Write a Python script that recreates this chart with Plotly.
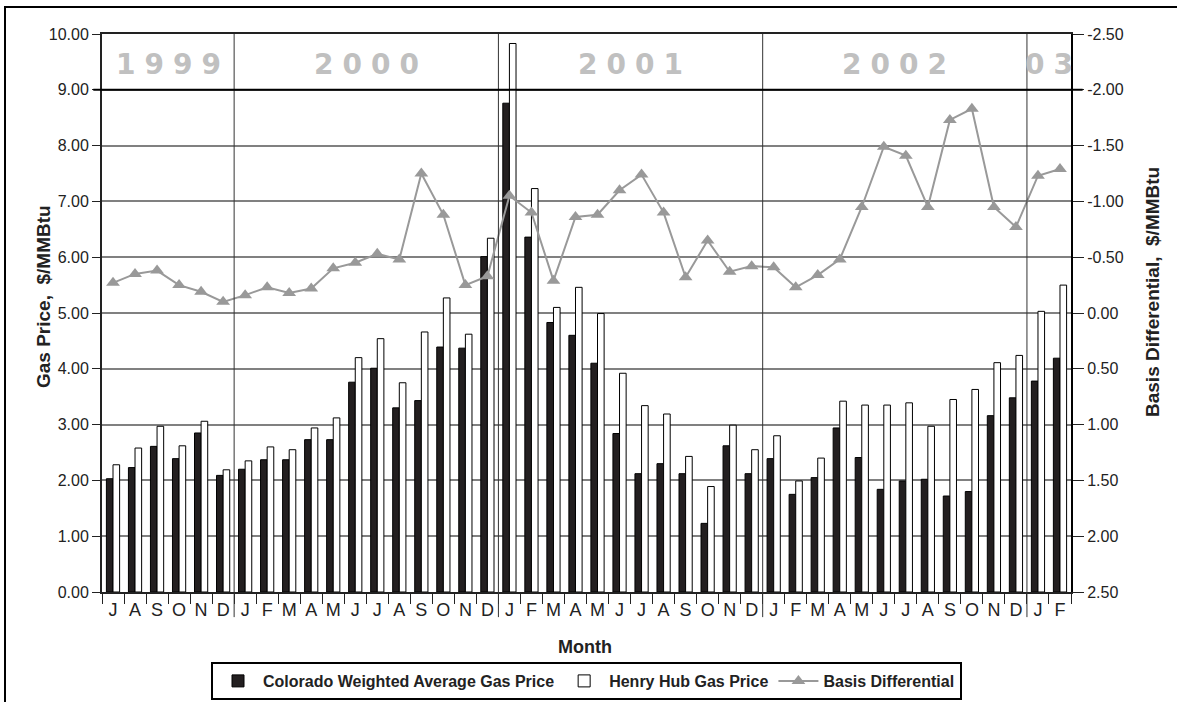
import plotly.graph_objects as go

months = ["J","A","S","O","N","D",
          "J","F","M","A","M","J","J","A","S","O","N","D",
          "J","F","M","A","M","J","J","A","S","O","N","D",
          "J","F","M","A","M","J","J","A","S","O","N","D",
          "J","F"]
colorado = [2.03, 2.23, 2.61, 2.39, 2.85, 2.09,
            2.20, 2.37, 2.37, 2.73, 2.73, 3.76, 4.01, 3.30, 3.43, 4.39, 4.37, 6.01,
            8.76, 6.36, 4.83, 4.60, 4.10, 2.84, 2.12, 2.30, 2.12, 1.23, 2.62, 2.12,
            2.39, 1.75, 2.05, 2.94, 2.41, 1.84, 1.99, 2.02, 1.72, 1.80, 3.16, 3.48,
            3.78, 4.19]
henry = [2.28, 2.58, 2.97, 2.62, 3.06, 2.19,
         2.35, 2.60, 2.55, 2.94, 3.12, 4.20, 4.54, 3.75, 4.66, 5.27, 4.62, 6.34,
         9.83, 7.23, 5.10, 5.46, 4.99, 3.92, 3.34, 3.19, 2.43, 1.89, 2.99, 2.55,
         2.80, 1.99, 2.40, 3.42, 3.35, 3.35, 3.39, 2.97, 3.45, 3.63, 4.11, 4.24,
         5.03, 5.50]
basis = [-0.27, -0.35, -0.38, -0.25, -0.19, -0.10,
         -0.16, -0.23, -0.18, -0.22, -0.40, -0.45, -0.53, -0.48, -1.25, -0.88, -0.25, -0.33,
         -1.05, -0.90, -0.29, -0.86, -0.88, -1.10, -1.24, -0.90, -0.32, -0.65, -0.37, -0.42,
         -0.41, -0.23, -0.34, -0.48, -0.95, -1.49, -1.41, -0.95, -1.73, -1.83, -0.95, -0.77,
         -1.23, -1.29]
year_labels = ["1999", "2000", "2001", "2002", "03"]
year_months = [6, 12, 12, 12, 2]
right_ticks = [-2.5, -2.0, -1.5, -1.0, -0.5, 0.0, 0.5, 1.0, 1.5, 2.0, 2.5]

x = list(range(len(months)))
FONT = "Liberation Sans, Arial, sans-serif"

fig = go.Figure()
fig.add_trace(go.Bar(x=x, y=colorado, name="Colorado Weighted Average Gas Price",
                     marker=dict(color="#231f20", line=dict(color="#000000", width=1))))
fig.add_trace(go.Bar(x=x, y=henry, name="Henry Hub Gas Price",
                     marker=dict(color="#ffffff", line=dict(color="#000000", width=1))))
fig.add_trace(go.Scatter(x=x, y=basis, name="Basis Differential", yaxis="y2",
                         mode="lines+markers",
                         line=dict(color="#999999", width=2),
                         marker=dict(symbol="triangle-up", size=12, color="#999999")))

shapes = []
annotations = []
start = 0
for lab, n in zip(year_labels, year_months):
    annotations.append(dict(x=start + (n - 1) / 2, y=9.45, xref="x", yref="y",
                            text='<span style="letter-spacing:9px">' + lab[:-1] + '</span>' + lab[-1],
                            showarrow=False,
                            font=dict(family="DejaVu Sans, sans-serif", size=28,
                                      color="#c0c0c0", weight="bold"),
                            xanchor="center", yanchor="middle"))
    start += n
    if start < len(months):
        shapes.append(dict(type="line", xref="x", yref="paper", x0=start - 0.5, x1=start - 0.5,
                           y0=-0.045, y1=1, line=dict(color="#333333", width=1)))

# black separator line at 9.00
shapes.append(dict(type="line", xref="paper", yref="y", x0=-0.009, x1=1.012, y0=9, y1=9,
                   line=dict(color="#000000", width=2)))
# outer frame
shapes.append(dict(type="rect", xref="paper", yref="paper", x0=-0.1001, x1=1.12,
                   y0=-0.21, y1=1.0484, line=dict(color="#000000", width=2)))

annotations.append(dict(text="Gas Price,  $/MMBtu", xref="paper", yref="paper",
                        x=(43 - 102) / 969, y=(592 - 297) / 558, textangle=-90,
                        showarrow=False, xanchor="center", yanchor="middle",
                        font=dict(family=FONT, size=19, color="#222222", weight="bold")))
annotations.append(dict(text="Basis Differential,  $/MMBtu", xref="paper", yref="paper",
                        x=(1152 - 102) / 969, y=(592 - 292) / 558, textangle=-90,
                        showarrow=False, xanchor="center", yanchor="middle",
                        font=dict(family=FONT, size=19, color="#222222", weight="bold")))
annotations.append(dict(text="Month", xref="paper", yref="paper",
                        x=(585 - 102) / 969, y=(592 - 647) / 558,
                        showarrow=False, xanchor="center", yanchor="middle",
                        font=dict(family=FONT, size=18, color="#222222", weight="bold")))

fig.update_layout(
    width=1177, height=702,
    margin=dict(l=102, r=106, t=34, b=110, pad=0, autoexpand=False),
    paper_bgcolor="white", plot_bgcolor="white",
    barmode="group", bargap=0.4, bargroupgap=0,
    font=dict(family=FONT, color="#222222"),
    showlegend=True,
    legend=dict(orientation="h", x=0.5, xanchor="center", y=(592 - 662) / 558, yanchor="top",
                bordercolor="#000000", borderwidth=2, bgcolor="white",
                font=dict(family=FONT, size=16, color="#222222", weight="bold"),
                itemwidth=40, traceorder="normal"),
    xaxis=dict(range=[-0.5, len(months) - 0.5], tickvals=x, ticktext=months, ticks="",
               tickfont=dict(size=18, color="#222222"),
               showline=True, linecolor="#222222", linewidth=2, mirror=True,
               showgrid=False, zeroline=False,
               minor=dict(ticks="outside", tick0=-0.5, dtick=1, ticklen=10,
                          tickcolor="#222222", tickwidth=1, showgrid=False)),
    yaxis=dict(range=[0, 10], dtick=1, tickformat=".2f", ticks="outside", ticklen=8,
               tickcolor="#222222", tickfont=dict(size=16, color="#222222"),
               showline=True, linecolor="#222222", linewidth=2,
               showgrid=True, gridcolor="#808080", gridwidth=1.5, zeroline=False),
    yaxis2=dict(range=[2.5, -2.5], tickvals=right_ticks,
                ticktext=["%.2f" % v for v in right_ticks],
                overlaying="y", side="right",
                ticks="outside", ticklen=11, tickcolor="#222222",
                tickfont=dict(size=16, color="#222222"),
                showline=True, linecolor="#000000", linewidth=2,
                showgrid=False, zeroline=False),
    shapes=shapes, annotations=annotations,
)
fig.write_html(
    "out.html",
    config={"displayModeBar": False},
    post_script=(
        "var h=document.documentElement,b=document.body;"
        "h.style.margin='0';h.style.padding='0';h.style.overflow='hidden';"
        "b.style.margin='0';b.style.padding='0';b.style.overflow='hidden';"
    ),
)
